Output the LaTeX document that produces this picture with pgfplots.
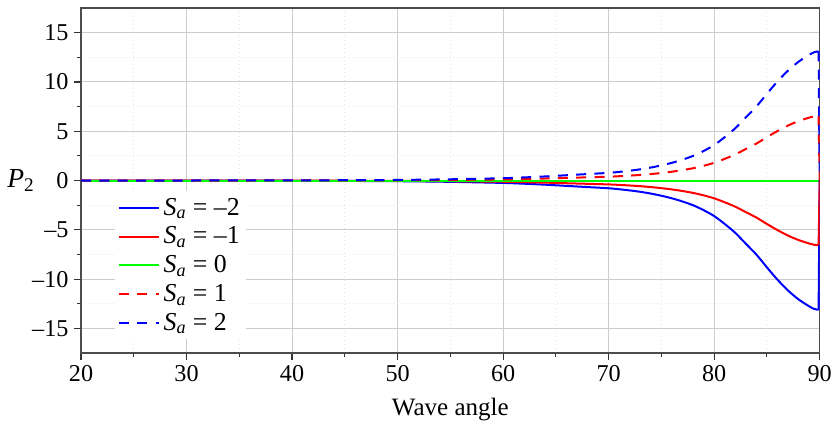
\documentclass[border=0pt]{standalone}
\usepackage{pgfplots}
\pgfplotsset{compat=1.18}
\usepackage{pgfplotstable}
\usepackage{fontspec}
\setmainfont{Liberation Serif}

% x, S_a=-2, S_a=-1, S_a=0, S_a=1, S_a=2
\pgfplotstableread{
x     m2      m1     z   p1    p2
20    0       0      0   0     0
30   -0.006  -0.003  0   0.003 0.006
40   -0.02   -0.01   0   0.01  0.02
45   -0.036  -0.018  0   0.018 0.036
50   -0.064  -0.032  0   0.032 0.064
55   -0.13   -0.065  0   0.065 0.13
60   -0.24   -0.12   0   0.12  0.24
62   -0.32   -0.16   0   0.16  0.32
64   -0.42   -0.21   0   0.21  0.42
66   -0.54   -0.27   0   0.27  0.54
68   -0.66   -0.33   0   0.33  0.66
70   -0.78   -0.39   0   0.39  0.78
71   -0.88   -0.44   0   0.44  0.88
72   -1.00   -0.50   0   0.50  1.00
73   -1.14   -0.57   0   0.57  1.14
74   -1.32   -0.66   0   0.66  1.32
75   -1.54   -0.77   0   0.77  1.54
76   -1.80   -0.90   0   0.90  1.80
77   -2.12   -1.06   0   1.06  2.12
78   -2.50   -1.25   0   1.25  2.50
79   -3.00   -1.50   0   1.50  3.00
80   -3.60   -1.80   0   1.80  3.60
81   -4.40   -2.20   0   2.20  4.40
82   -5.30   -2.65   0   2.65  5.30
83   -6.40   -3.20   0   3.20  6.40
84   -7.50   -3.75   0   3.75  7.50
85   -8.80   -4.40   0   4.40  8.80
86   -10.05  -5.02   0   5.02  10.05
87   -11.15  -5.58   0   5.58  11.15
88   -12.05  -6.03   0   6.03  12.05
89   -12.75  -6.38   0   6.38  12.75
89.5 -13.02  -6.51   0   6.51  13.02
89.9 -13.10  -6.55   0   6.55  13.10
90    0       0      0   0     0
}\datatable

\pgfplotsset{
    curve/.style={line width=1.2pt, smooth, tension=0.5, restrict x to domain=20:89.95},
    drop/.style={line width=1.2pt, restrict x to domain=89.8:90, forget plot},
    dsh/.style={dash pattern=on 6pt off 5pt},
}

\begin{document}
\begin{tikzpicture}
\begin{axis}[
    scale only axis,
    width=443pt, height=207pt,
    xmin=20, xmax=90,
    ymin=-17.5, ymax=17.5,
    xtick={20,30,...,90},
    minor x tick num=1,
    ytick={-15,-10,...,15},
    yticklabels={–15,–10,–5,0,5,10,15},
    minor y tick num=1,
    /pgf/number format/assume math mode=true,
    tick pos=left,
    tick align=outside,
    major tick length=4pt,
    minor tick length=2.5pt,
    tick style={black!80, line width=0.7pt},
    axis line style={black!70, line width=0.9pt},
    grid=both,
    major grid style={black!20, line width=0.6pt},
    minor grid style={black!10, dotted, line width=0.5pt},
    xlabel={Wave angle},
    ylabel={\textit{P}\textsubscript{2}},
    ylabel style={rotate=-90, at={(axis description cs:0,0.5)}, anchor=center,
        xshift=-36pt, font=\fontsize{16.5}{18}\selectfont},
    xlabel style={font=\fontsize{15}{17}\selectfont, yshift=-3pt},
    ticklabel style={font=\fontsize{14.5}{16}\selectfont},
    legend style={at={(0.045,0.47)}, anchor=north west, draw=none, fill=white,
        font=\fontsize{15.5}{17}\selectfont, row sep=1.5pt, inner sep=2pt},
    legend cell align=left,
    legend image code/.code={\draw[#1] (0cm,0cm) -- (0.85cm,0cm);},
]
\addplot[blue, curve] table[x=x, y=m2] {\datatable};
\addlegendentry{\textit{S}\textsubscript{\textit{a}} = –2}
\addplot[red, curve] table[x=x, y=m1] {\datatable};
\addlegendentry{\textit{S}\textsubscript{\textit{a}} = –1}
\addplot[green, curve] table[x=x, y=z] {\datatable};
\addlegendentry{\textit{S}\textsubscript{\textit{a}} = 0}
\addplot[red, curve, dsh] table[x=x, y=p1] {\datatable};
\addlegendentry{\textit{S}\textsubscript{\textit{a}} = 1}
\addplot[blue, curve, dsh] table[x=x, y=p2] {\datatable};
\addlegendentry{\textit{S}\textsubscript{\textit{a}} = 2}
\addplot[blue, drop] table[x=x, y=m2] {\datatable};
\addplot[red, drop] table[x=x, y=m1] {\datatable};
\addplot[red, drop, dsh] table[x=x, y=p1] {\datatable};
\addplot[blue, drop, dsh] table[x=x, y=p2] {\datatable};
\end{axis}
\pgfresetboundingbox
\path ([xshift=-48.6pt,yshift=-40.8pt]current axis.south west)
  rectangle ([xshift=7.4pt,yshift=4.8pt]current axis.north east);
\end{tikzpicture}
\end{document}
